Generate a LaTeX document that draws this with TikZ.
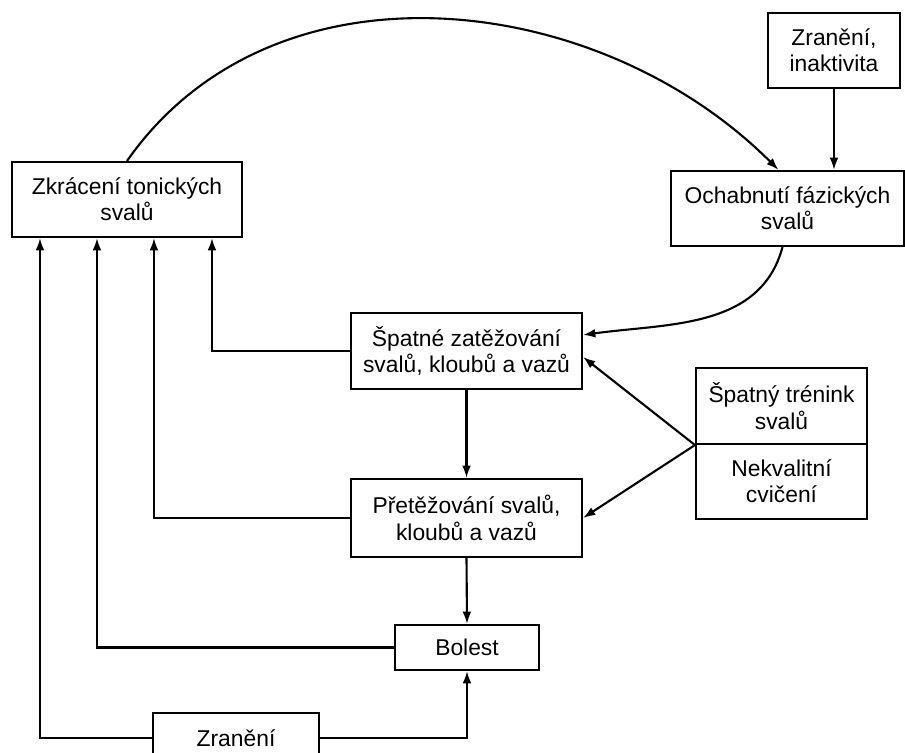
\documentclass[tikz,border=0pt]{standalone}
\usepackage{fontspec}
\setmainfont{Liberation Sans}
\usepackage{tikz}
\usetikzlibrary{calc}
\usetikzlibrary{arrows.meta}
\tikzset{
  box/.style={draw, line width=1.2pt, align=center, inner sep=0pt, font=\fontsize{13}{15}\selectfont},
  arr/.style={line width=1.2pt, -{Latex[length=7pt,width=5pt]}}
}

\begin{document}
\begin{tikzpicture}[x=0.02cm, y=0.02cm]
        \useasboundingbox (0,0) rectangle (905,753);
        %boxes
        \node[box, minimum width=4.6cm,  minimum height=1.5cm]  (zkr)   at (127,553.5)   {Zkrácení tonických\\svalů};
        \node[box, minimum width=2.64cm, minimum height=1.5cm]  (inakt) at (834,702.5)   {Zranění,\\inaktivita};
        \node[box, minimum width=4.66cm, minimum height=1.5cm]  (ochab) at (787.5,544.5) {Ochabnutí fázických\\svalů};
        \node[box, minimum width=4.62cm, minimum height=1.52cm] (spat)  at (466.5,402)   {Špatné zatěžování\\svalů, kloubů a vazů};
        \node[box, minimum width=4.62cm, minimum height=1.56cm] (pret)  at (466.5,235)   {Přetěžování svalů,\\kloubů a vazů};
        \node[box, minimum width=3.42cm, minimum height=1.52cm] (tren)  at (781.5,347)   {Špatný trénink\\svalů};
        \node[box, minimum width=3.42cm, minimum height=1.5cm]  (cvic)  at (781.5,271.5) {Nekvalitní\\cvičení};
        \node[box, minimum width=2.88cm, minimum height=0.9cm]  (bol)   at (467,105.5)   {Bolest};
        \node[box, minimum width=3.32cm, minimum height=1cm]    (zran)  at (236,15)      {Zranění};

        %entry points under the left box
        \coordinate (z1) at ($(zkr.south west)+(29,0)$);
        \coordinate (z2) at ($(zkr.south west)+(86,0)$);
        \coordinate (z3) at ($(zkr.south west)+(143,0)$);
        \coordinate (z4) at ($(zkr.south west)+(201,0)$);

        \draw[arr] (zkr.north) to[out=55, in=135] ($(ochab.north)+(-9,0)$);
        \draw[arr] (inakt.south) -- (inakt.south |- ochab.north);
        \draw[arr] ($(ochab.south)+(-5,0)$) to[out=-105, in=8] ($(spat.east)+(0,16)$);
        \draw[arr] (tren.south west) -- ($(spat.east)+(0,-6)$);
        \draw[arr] (tren.south west) -- (pret.east);
        \draw[arr] (spat.south) -- (pret.north);
        \draw[arr] (pret.south) -- (bol.north);
        \draw[arr] (zran.east) -| (bol.south);

        \draw[arr] (spat.west) -| (z4);
        \draw[arr] (pret.west) -| (z3);
        \draw[arr] (bol.west) -| (z2);
        \draw[arr] (zran.west) -| (z1);
    \end{tikzpicture}
\end{document}
